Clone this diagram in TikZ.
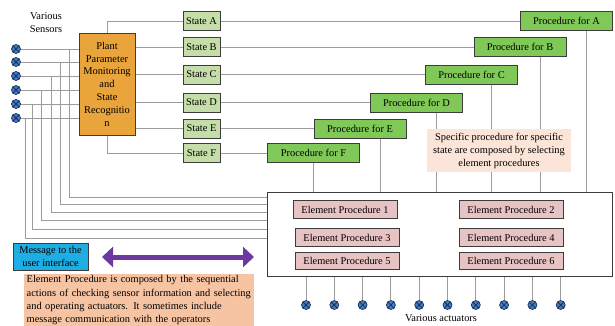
\documentclass[tikz,border=0pt]{standalone}
\usepackage{fontspec}
\setmainfont{Liberation Serif}
\usetikzlibrary{arrows.meta}

\definecolor{wiregray}{HTML}{9C9C9C}
\definecolor{boxgray}{HTML}{3C3C3C}
\definecolor{plantorange}{HTML}{E9A43C}
\definecolor{stategreen}{HTML}{C5DDA8}
\definecolor{procgreen}{HTML}{80C857}
\definecolor{elempink}{HTML}{E8C3C3}
\definecolor{notepeach}{HTML}{FBE4D8}
\definecolor{noteorange}{HTML}{F7C4A3}
\definecolor{msgblue}{HTML}{1FAEE3}
\definecolor{arrowpurple}{HTML}{6C3A9E}
\definecolor{devblue}{HTML}{3E7FC6}
\definecolor{devnavy}{HTML}{1D2F5A}

\begin{document}
\begin{tikzpicture}[x=1pt,y=-1pt,font=\fontsize{10.4}{13}\selectfont,
  wire/.style={draw=wiregray,line width=0.9pt},
  box/.style={draw=boxgray,line width=1pt,inner sep=1pt},
  statebox/.style={box,fill=stategreen,minimum width=37pt,minimum height=19pt},
  procbox/.style={box,fill=procgreen,minimum width=92pt,minimum height=19pt},
  elembox/.style={box,fill=elempink,minimum width=104pt,minimum height=17.5pt},
  device/.style={circle,draw=devnavy,fill=devblue,line width=0.7pt,
    minimum size=9pt,inner sep=0pt,
    path picture={\draw[devnavy,line width=0.8pt]
      (path picture bounding box.south west) -- (path picture bounding box.north east)
      (path picture bounding box.north west) -- (path picture bounding box.south east);}}]

\useasboundingbox (0,0) rectangle (615,325);

%Main blocks
\node[box,fill=plantorange,minimum width=56pt,minimum height=102pt,align=center,
  font=\fontsize{10.4}{12.8}\selectfont] (plant) at (107,84)
  {Plant\\Parameter\\Monitoring\\and\\State\\Recognitio\\n};
\node[box,fill=white,minimum width=345pt,minimum height=84pt] (elements) at (439.5,234) {};
\node (sensorlabel) at (46,23) [align=center] {Various\\Sensors};

%States and their procedures
\foreach \s/\y/\px/\off in {A/21/566.5/20, B/47/520/20, C/74.5/471.5/20,
                             D/102.5/416.5/20, E/128.5/360/20, F/153/313.5/0}{
  \node[statebox] (st\s) at (201.5,\y) {State \s};
  \node[procbox] (proc\s) at (\px,\y) {Procedure for \s};
  \draw[wire] (st\s.east) -- (proc\s.west);
  \draw[wire] ([xshift=\off pt]proc\s.south) -- ([xshift=\off pt]proc\s.south |- elements.north);
}

%Plant box to states
\draw[wire] (plant.north) |- (stA.west);
\draw[wire] (plant.south) |- (stF.west);
\foreach \s in {B,C,D,E}
  \draw[wire] (plant.east |- st\s) -- (st\s.west);

%Sensors
\foreach \i/\y/\xb/\yb in {1/49/69/197, 2/62/60/204, 3/76/51/212,
                           4/90/41/220, 5/104/32/229, 6/118/25/238}{
  \node[device] (sens\i) at (16,\y) {};
  \draw[wire] (sens\i) -- (sens\i -| plant.west);
  \draw[wire] (\xb,\y) |- (elements.west |- 0,\yb);
}

%Element procedures
\node[elembox] (ep1) at (345,209.5) {Element Procedure 1};
\node[elembox] (ep2) at (511,209.5) {Element Procedure 2};
\node[elembox] (ep3) at (347,237.5) {Element Procedure 3};
\node[elembox] (ep4) at (511,237.5) {Element Procedure 4};
\node[elembox] (ep5) at (347,261) {Element Procedure 5};
\node[elembox] (ep6) at (511,261) {Element Procedure 6};

%Actuators
\foreach \j in {1,...,10}{
  \node[device] (act\j) at ({306+28.3*(\j-1)},305) {};
  \draw[wire] (act\j) -- (act\j |- elements.south);
}
\node (actlabel) at (441,318) {Various actuators};

%Notes
\node[fill=notepeach,minimum width=144pt,minimum height=43pt,align=center,inner sep=1pt]
  (specnote) at (499,150.5)
  {Specific procedure for specific\\state are composed by selecting\\element procedures};
\node[box,fill=msgblue,minimum width=75pt,minimum height=27pt,align=center]
  (msg) at (50.5,256.5) {Message to the\\user interface};
\node[fill=noteorange,anchor=north west,text width=225pt,inner xsep=2.5pt,
  inner ysep=1.5pt,align=left,font=\fontsize{10.4}{13.3}\selectfont]
  (elemnote) at (24,274)
  {Element Procedure is composed by the sequential\\
   actions of checking sensor information and selecting\\
   and operating actuators. It sometimes include\\
   message communication with the operators};

%Message arrow
\coordinate (arrowL) at (102,257);
\coordinate (arrowR) at (254,257);
\draw[arrowpurple,line width=5pt,
  {Triangle[length=11pt,width=20pt]}-{Triangle[length=11pt,width=20pt]}]
  (arrowL) -- (arrowR);
\end{tikzpicture}
\end{document}
